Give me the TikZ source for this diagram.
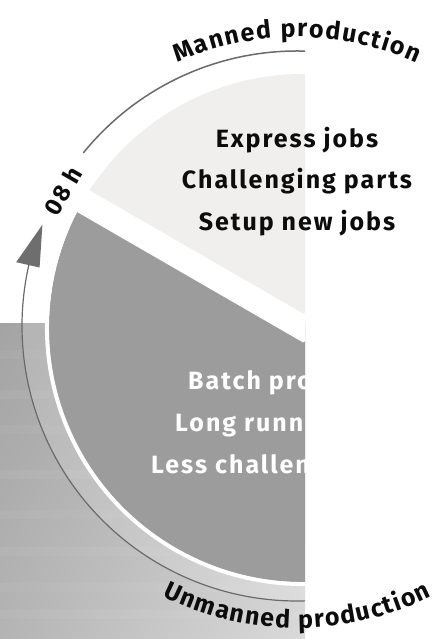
\documentclass[tikz,border=0pt]{standalone}
\usepackage{fontspec}
\setmainfont{Fira Sans}
\newfontfamily\dinfont{Fira Sans}[LetterSpace=8]
\usetikzlibrary{decorations.text,shadings}
\definecolor{lightsec}{RGB}{240,239,238}
\definecolor{darksec}{RGB}{156,156,156}
\definecolor{arcgray}{RGB}{106,106,106}
\definecolor{headgray}{RGB}{110,110,110}
\definecolor{txt}{RGB}{12,12,12}
\definecolor{bgUL}{RGB}{164,164,164}
\definecolor{bgUR}{RGB}{190,190,190}
\definecolor{bgLL}{RGB}{180,180,180}
\definecolor{bgLR}{RGB}{218,218,218}
\begin{document}
\begin{tikzpicture}[x=1pt,y=1pt,
  btext/.style={font=\fontsize{25}{25}\dinfont\bfseries, text=txt, inner sep=0pt, anchor=base},
  wtext/.style={font=\fontsize{25}{25}\dinfont\bfseries, text=white, inner sep=0pt, anchor=base west},
  arcline/.style={draw=arcgray, line width=1.5},
]
\useasboundingbox (0,0) rectangle (437,639);
\coordinate (C) at (303,311);
\coordinate (A) at (297,313);
% brushed background
\shade[upper left=bgUL, upper right=bgUR, lower left=bgLL, lower right=bgLR] (0,0) rectangle (305,315);
\begin{scope}
  \clip (0,0) rectangle (305,315);
  \fill[white, opacity=0.16, even odd rule] (A) circle[radius=275] (C) circle[radius=254];
  \foreach \yy/\op in {20/0.05,47/0.04,83/0.05,120/0.04,160/0.05,205/0.04,240/0.05,280/0.04}
    \fill[white, opacity=\op] (0,\yy) rectangle (305,\yy+9);
\end{scope}
% pie (left half only)
\begin{scope}
  \clip (0,0) rectangle (305,639);
  \fill[lightsec] (C) -- ([shift={(30:254)}]C) arc[start angle=30, end angle=150, radius=254] -- cycle;
  \fill[darksec] (C) -- ([shift={(150:254)}]C) arc[start angle=150, end angle=390, radius=254] -- cycle;
  \draw[white, line width=4] ([shift={(150:256)}]C) arc[start angle=150, end angle=390, radius=256];
  \draw[white, line width=25, miter limit=10] ([shift={(150:270)}]C) -- (C) -- ([shift={(30:270)}]C);
  \node[wtext] (b1) at (188,249) {Batch pro};
  \node[wtext] (b2) at (175,207) {Long runn};
  \node[wtext] (b3) at (151,165) {Less challen};
\end{scope}
% texts of the manned sector
\node[btext] (m1) at (297,491) {Express jobs};
\node[btext] (m2) at (297,450) {Challenging parts};
\node[btext] (m3) at (297,408) {Setup new jobs};
% arcs
\begin{scope}
  \clip (0,0) rectangle (305,639);
  \draw[arcline] ([shift={(141:275)}]A) arc[start angle=141, end angle=88, radius=275];
  \draw[arcline, line width=1.2] ([shift={(272:275)}]A) arc[start angle=272, end angle=167, radius=275];
\end{scope}
\fill[headgray] ([shift={(158.3:274)}]A) -- ([shift={(167.2:288)}]A) -- ([shift={(167.2:264)}]A) -- cycle;
\node[font=\fontsize{24}{24}\dinfont\bfseries, text=txt, rotate=60, inner sep=0pt] (h8) at (63,448) {08 h};
% curved labels
\path[decorate, decoration={text along path, text align=fit to path,
  text={|\fontsize{25}{25}\selectfont\bfseries\color{txt}|Manned production}}]
  ([shift={(114.5:289)}]A) arc[start angle=114.5, end angle=65.5, radius=289];
\path[decorate, decoration={text along path, text align=fit to path,
  text={|\fontsize{25}{25}\selectfont\bfseries\color{txt}|Unmanned production}}]
  ([shift={(243.5:302)}]A) arc[start angle=243.5, end angle=296.5, radius=302];
\end{tikzpicture}
\end{document}
